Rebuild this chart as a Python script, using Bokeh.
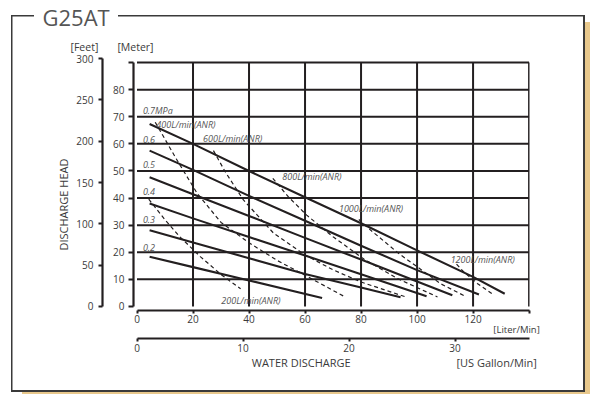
from bokeh.plotting import figure
from bokeh.models import Range1d, LinearAxis, FixedTicker, Title
from bokeh.core.properties import value
from bokeh.embed import file_html
from bokeh.resources import INLINE

# ---------------- data ----------------
flow_ticks = [0, 20, 40, 60, 80, 100, 120, 140]          # L/min
head_m_ticks = [0, 10, 20, 30, 40, 50, 60, 70, 80, 90]   # meter
head_ft_ticks = [0, 50, 100, 150, 200, 250, 300]         # feet
gal_ticks = [0, 10, 20, 30]                              # US gal/min

# pressure curves (solid): flow L/min, head m
p07_flow = [4.5, 20, 40, 60, 80, 100, 120, 131.3]
p07_head = [67.3, 60, 50, 40.3, 30.7, 20.7, 10.9, 4.7]
p06_flow = [4.5, 20, 40, 60, 80, 100, 122.1]
p06_head = [57.5, 50.4, 40.8, 31.6, 22.4, 13.4, 4.4]
p05_flow = [4.5, 20, 40, 60, 80, 100, 112.6]
p05_head = [47.7, 41.4, 33.4, 25.3, 17.3, 9.2, 4.1]
p04_flow = [4.5, 20, 40, 60, 80, 103.4]
p04_head = [38.0, 32.5, 25.6, 18.8, 11.9, 3.8]
p03_flow = [4.5, 20, 40, 60, 80, 94.1]
p03_head = [28.1, 23.6, 17.8, 12.0, 7.0, 3.4]
p02_flow = [4.5, 20, 40, 66.1]
p02_head = [18.3, 14.5, 9.6, 3.1]

# air consumption curves (dashed)
a200_flow = [4.2, 10, 15, 22.7, 30, 37]
a200_head = [39.6, 32, 26, 18.3, 11.8, 6.5]
a400_flow = [6.5, 14, 21.5, 30, 40, 50, 60, 74.5]
a400_head = [68, 54.5, 41.7, 31, 23.5, 17, 11.5, 3.4]
a600_flow = [27.3, 31.5, 38, 48.8, 60, 70, 80, 96.3]
a600_head = [57.5, 49.7, 39.3, 27, 19, 13.5, 9, 3.4]
a800_flow = [48.5, 54, 60.6, 70, 81, 93, 107.3]
a800_head = [47.3, 40.5, 33.7, 25.7, 17.5, 10.3, 3.5]
a1000_flow = [79.2, 82.7, 93.5, 108.4, 117.3]
a1000_head = [32.1, 28.8, 19.5, 8.4, 3.7]
a1200_flow = [114.1, 116.7, 121.5, 127.3]
a1200_head = [15.6, 12.7, 8.5, 4.3]

pressure_labels = ["0.7MPa", "0.6", "0.5", "0.4", "0.3", "0.2"]
air_labels = ["400L/min(ANR)", "600L/min(ANR)", "800L/min(ANR)",
              "1000L/min(ANR)", "1200L/min(ANR)", "200L/min(ANR)"]

# label anchor positions (data space)
pl_x = [2.1, 2.1, 2.1, 2.1, 2.1, 2.1]
pl_y = [72.2, 61.5, 52.2, 42.3, 31.9, 21.9]
al_x = [6.9, 23.6, 51.9, 72.1, 112, 30.1]
al_y = [67.3, 62.1, 47.9, 36.2, 17.4, 2.2]

M_TO_FT = 3.28084
L_PER_GAL = 3.78541

FONT = "Open Sans"
INK = "#231f20"
TXT = "#3a3a3a"
NB = "\u00a0"

p = figure(width=590, height=394,
           x_range=Range1d(-1.25, 140.15), y_range=Range1d(-1.5, 91.5),
           output_backend="svg", toolbar_location=None, title_location=None,
           min_border_left=133, min_border_right=61,
           min_border_top=58, min_border_bottom=84)
p.outline_line_color = None
p.xgrid.visible = False
p.ygrid.visible = False
p.background_fill_color = "white"
p.border_fill_color = None

# page frame (border lines and tan shadow) painted behind the transparent canvas
LINE = "#3a3a3a"
TAN = "#e8c88c"
bg = ", ".join([
    f"linear-gradient({LINE},{LINE}) 11px 15px / 1.5px 376px no-repeat",
    f"linear-gradient({LINE},{LINE}) 11px 15px / 23px 1.5px no-repeat",
    f"linear-gradient({LINE},{LINE}) 118px 15px / 467px 1.5px no-repeat",
    f"linear-gradient({LINE},{LINE}) 583px 15px / 2px 377px no-repeat",
    f"linear-gradient({LINE},{LINE}) 11px 390px / 574px 2px no-repeat",
    f"linear-gradient({TAN},{TAN}) 585px 22px / 5px 372px no-repeat",
    f"linear-gradient({TAN},{TAN}) 22px 392px / 568px 2px no-repeat",
    "white",
])
p.styles = {"background": bg}

p.extra_y_ranges = {"feet": Range1d(-1.5 * M_TO_FT, 91.5 * M_TO_FT)}
p.extra_x_ranges = {"gal": Range1d(-1.25 / L_PER_GAL, 140.15 / L_PER_GAL)}


def style_axis(ax, tick_out, standoff):
    ax.axis_line_color = INK
    ax.axis_line_width = 2.2
    ax.major_tick_line_color = INK
    ax.major_tick_line_width = 2
    ax.major_tick_out = tick_out
    ax.major_tick_in = 0
    ax.minor_tick_out = 0
    ax.minor_tick_in = 0
    ax.major_label_standoff = standoff
    ax.major_label_text_font = FONT
    ax.major_label_text_font_size = "10px"
    ax.major_label_text_color = TXT
    ax.axis_label_text_font = FONT
    ax.axis_label_text_font_style = "normal"
    ax.axis_label_text_color = TXT


# meter axis (inner left)
m_ax = p.yaxis[0]
m_ax.ticker = FixedTicker(ticks=head_m_ticks)
m_ax.major_label_overrides = {90: ""}
m_ax.bounds = (0, 90)
style_axis(m_ax, 5, 4)
m_ax.axis_label = NB
m_ax.axis_label_text_font_size = "4px"
m_ax.axis_label_standoff = 0

# feet axis (outer left)
f_ax = LinearAxis(y_range_name="feet", ticker=FixedTicker(ticks=head_ft_ticks))
f_ax.bounds = (0, 300)
style_axis(f_ax, 4, 5)
p.add_layout(f_ax, "left")

# vertical axis title
p.add_layout(Title(text="DISCHARGE HEAD", align="left", offset=60, standoff=6,
                   text_font=FONT, text_font_size="11px", text_font_style="normal",
                   text_color=TXT), "left")

# liter axis (inner bottom)
l_ax = p.xaxis[0]
l_ax.ticker = FixedTicker(ticks=flow_ticks)
l_ax.major_label_overrides = {140: ""}
l_ax.bounds = (0, 140)
style_axis(l_ax, 3, 1)
l_ax.axis_label = NB * 150 + "[Liter/Min]"
l_ax.axis_label_text_font_size = "9.5px"
l_ax.axis_label_standoff = -3

# gallon axis (outer bottom)
g_ax = LinearAxis(x_range_name="gal", ticker=FixedTicker(ticks=gal_ticks))
g_ax.bounds = (0, 140 / L_PER_GAL)
style_axis(g_ax, 3, 2)
g_ax.axis_label = NB * 44 + "WATER DISCHARGE" + NB * 37 + "[US Gallon/Min]"
g_ax.axis_label_text_font_size = "11px"
g_ax.axis_label_standoff = 0
p.add_layout(g_ax, "below")

# top texts
p.add_layout(Title(text="[Feet]" + NB * 7 + "[Meter]", align="left", offset=-63,
                   standoff=9, vertical_align="bottom",
                   text_font=FONT, text_font_size="10.5px", text_font_style="normal",
                   text_color=TXT), "above")
p.add_layout(Title(text="G25AT", align="left", offset=-91, standoff=0,
                   vertical_align="top",
                   text_font=FONT, text_font_size="22px", text_font_style="normal",
                   text_color="#555555"), "above")

# grid from tick arrays
vx = [t for t in flow_ticks if t > 0]
p.segment(x0=vx, y0=[0] * len(vx), x1=vx, y1=[90] * len(vx),
          line_color=INK, line_width=2)
hy = [t for t in head_m_ticks if t > 0]
p.segment(x0=[0] * len(hy), y0=hy, x1=[140] * len(hy), y1=hy,
          line_color=INK, line_width=2)

# pressure curves
for fx, hy_ in [(p07_flow, p07_head), (p06_flow, p06_head), (p05_flow, p05_head),
                (p04_flow, p04_head), (p03_flow, p03_head), (p02_flow, p02_head)]:
    p.line(fx, hy_, line_color=INK, line_width=2.1)

# air consumption curves
for fx, hy_ in [(a200_flow, a200_head), (a400_flow, a400_head), (a600_flow, a600_head),
                (a800_flow, a800_head), (a1000_flow, a1000_head), (a1200_flow, a1200_head)]:
    p.line(fx, hy_, line_color=INK, line_width=1.2, line_dash="4 3")

p.text(x=pl_x, y=pl_y, text=pressure_labels, text_font=value(FONT),
       text_font_style="italic", text_font_size="9px", text_color="#555555",
       text_baseline="middle", text_align="left")
p.text(x=al_x, y=al_y, text=air_labels, text_font=value(FONT),
       text_font_style="italic", text_font_size="9px", text_color="#555555",
       text_baseline="middle", text_align="left")

open("out.html", "w").write(file_html(p, INLINE))
